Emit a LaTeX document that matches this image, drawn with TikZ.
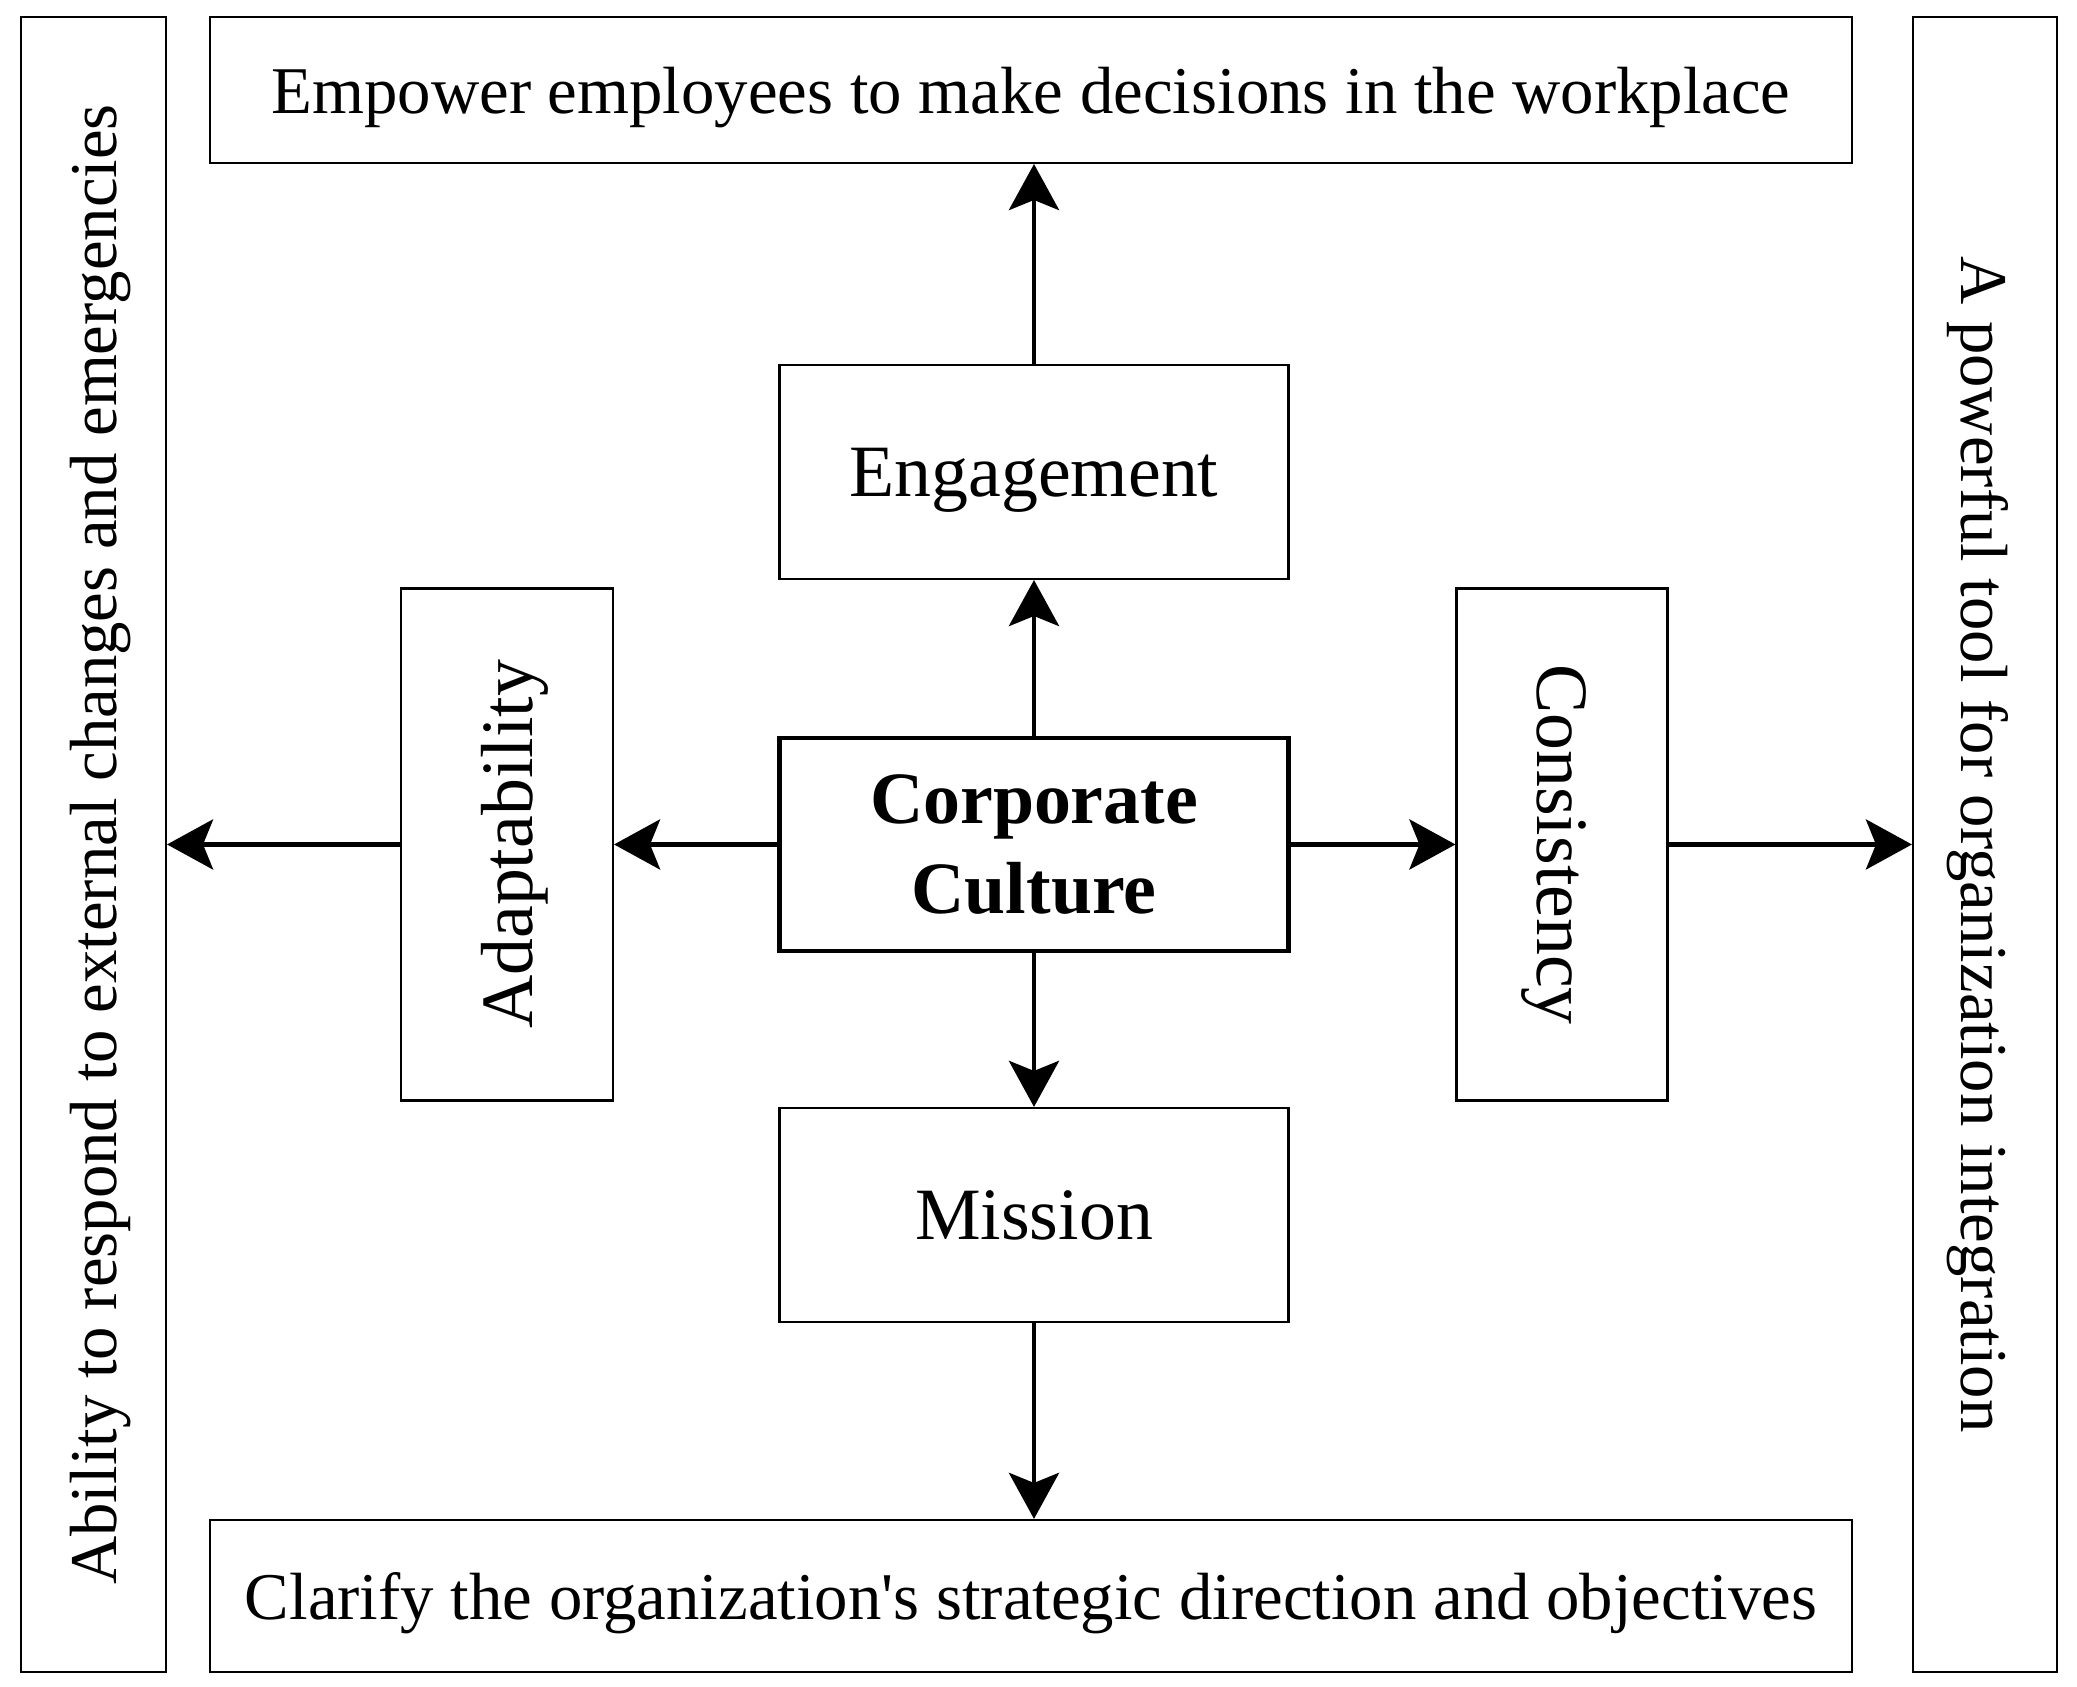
\documentclass[tikz,border=0pt]{standalone}
\usepackage{fontspec}
\setmainfont{Liberation Serif}
\usetikzlibrary{arrows.meta}

\begin{document}
\begin{tikzpicture}[
    box/.style={draw, line width=0.6pt, inner sep=0pt, text depth=0pt, align=center, font=\fontsize{21}{25}\selectfont},
    outerbox/.style={draw, line width=0.6pt, inner sep=0pt, text depth=0pt, align=center, font=\fontsize{19}{23}\selectfont},
    corebox/.style={draw, line width=1.4pt, inner sep=0pt, align=center, font=\fontsize{21}{25.5}\selectfont\bfseries},
    arr/.style={line width=1.4pt, -{Stealth[length=4.6mm, width=5mm, inset=1mm]}}
  ]
  \useasboundingbox (0,0) rectangle (20.77,16.87);

  % centre
  \node [corebox, minimum width=5.09cm, minimum height=2.13cm] (culture) at (10.34,8.425) {Corporate\\Culture};

  % the four traits
  \node [box, minimum width=5.09cm, minimum height=2.14cm] (engage) at (10.34,12.15) {Engagement};
  \node [box, minimum width=5.09cm, minimum height=2.14cm] (mission) at (10.34,4.72) {Mission};
  \node [box, rotate=90, minimum width=5.12cm, minimum height=2.12cm] (adapt) at (5.07,8.425) {Adaptability};
  \node [box, rotate=-90, minimum width=5.12cm, minimum height=2.11cm] (consist) at (15.62,8.425) {Consistency};

  % outer frame
  \node [outerbox, minimum width=16.42cm, minimum height=1.46cm] (empower) at (10.31,15.97) {Empower employees to make decisions in the workplace};
  \node [outerbox, minimum width=16.42cm, minimum height=1.52cm] (clarify) at (10.31,0.91) {Clarify the organization\textquotesingle s strategic direction and objectives};
  \node [outerbox, rotate=90, minimum width=16.55cm, minimum height=1.45cm] (ability) at (0.935,8.425) {Ability to respond to external changes and emergencies};
  \node [outerbox, rotate=-90, minimum width=16.55cm, minimum height=1.44cm] (tool) at (19.85,8.425) {A powerful tool for organization integration};

  \draw [arr] (culture) -- (engage);
  \draw [arr] (engage) -- (engage |- empower.south);
  \draw [arr] (culture) -- (mission);
  \draw [arr] (mission) -- (mission |- clarify.north);
  \draw [arr] (culture) -- (adapt);
  \draw [arr] (adapt) -- (ability);
  \draw [arr] (culture) -- (consist);
  \draw [arr] (consist) -- (tool);
\end{tikzpicture}
\end{document}
